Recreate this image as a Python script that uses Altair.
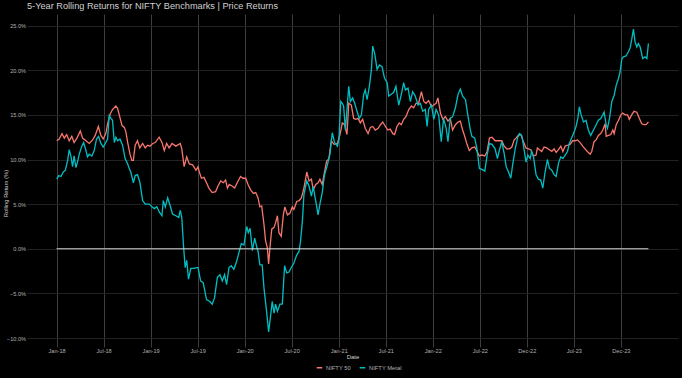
import altair as alt
import pandas as pd

# ---------------- data ----------------
# day offsets from 2018-01-01 and 5-year rolling return (%)
nifty50_days = [1,10,21,30,39,49,59,68,79,92,101,114,127,140,150,162,172,181,191,198,
    208,217,230,237,246,254,263,269,276,285,292,298,305,314,323,334,344,353,362,373,
    383,398,409,418,427,437,448,463,480,486,495,505,515,528,541,549,
    553,562,572,582,591,604,617,626,637,647,656,663,670,682,691,701,714,723,734,743,
    753,764,773,782,789,796,805,811,818,823,828,835,844,850,857,863,872,880,886,896,
    906,915,921,932,941,950,960,971,980,989,996,1006,1015,1022,1031,1038,1048,1057,1066,1077,
    1090,1100,1109,
    1118,1127,1134,1144,1153,1162,1170,1179,1188,1198,1209,1218,1227,1237,1248,1257,1266,1276,1286,1295,
    1305,1312,1321,1330,1338,1347,1356,1367,1377,1386,1395,1405,1416,1425,1434,1444,1455,1464,1473,1480,
    1490,1499,1509,1519,1528,1537,1548,1558,1567,1576,1584,1593,1602,1612,1623,1632,1641,1651,1662,1671,
    1680,1690,
    1702,1715,1728,1737,1747,1758,1767,1776,1783,1792,1802,1812,1822,1831,1840,1851,1861,1866,1874,1883,
    1892,1902,1913,1922,1931,1939,1948,1957,1965,1974,1983,1993,2003,2012,2022,2032,2042,2051,2060,2071,
    2077,2086,2094,2103,2112,2120,2129,2133,2142,2151,2159,2164,2172,2181,2190,2197,2207,2216,2223,2232,
    2241,2252,2262,2271,2280,2288,2297]
nifty50_vals = [12.1,12.3,12.9,12.4,12.8,12.1,12.6,11.9,12.4,13.2,12.4,12.1,11.8,12.2,12.7,13.7,12.7,12.3,12.9,14.0,
    15.1,15.6,16.0,15.7,14.7,13.8,13.6,13.1,11.9,10.6,9.9,9.9,11.6,12.1,11.3,11.8,11.3,11.6,11.5,11.8,
    11.9,12.5,11.9,11.0,11.8,11.3,11.8,11.5,11.8,11.2,9.2,10.3,9.5,9.4,8.8,9.2,
    8.7,7.9,8.0,7.4,6.8,6.3,6.4,7.0,7.6,7.4,7.7,6.8,7.2,7.0,6.8,7.4,8.1,7.9,7.9,7.2,
    6.6,6.2,6.3,5.7,4.7,4.8,2.7,0.9,0.1,-1.7,0.1,2.2,2.4,2.9,3.7,1.8,1.4,3.8,4.7,3.8,
    4.0,4.7,4.4,5.3,5.4,5.7,6.8,8.6,7.6,7.8,6.6,7.2,7.4,7.8,7.2,8.3,9.8,10.1,12.1,11.7,
    11.8,12.8,14.1,
    13.9,12.8,16.3,16.1,14.6,14.5,14.6,14.1,14.5,13.5,12.9,13.6,13.7,13.3,13.5,13.9,14.2,13.7,13.3,13.4,
    12.9,12.8,13.7,14.1,13.9,14.5,14.8,15.6,16.0,15.8,16.3,16.3,17.6,16.5,16.3,16.6,15.9,16.1,16.3,16.9,
    15.2,14.5,14.8,14.3,14.6,13.3,13.9,14.2,14.3,13.3,12.6,11.7,11.0,11.3,11.4,10.9,10.4,10.5,10.4,10.9,
    12.4,12.5,
    12.1,12.1,12.1,11.5,11.2,11.2,11.4,12.2,12.4,12.7,12.8,12.0,11.3,11.2,11.1,10.4,10.5,11.3,11.1,10.9,
    11.4,11.3,11.1,10.9,11.2,10.8,11.1,11.5,10.9,11.5,11.6,11.7,12.1,12.1,12.2,11.9,11.5,11.2,10.9,10.6,
    10.9,12.0,12.2,12.7,12.9,13.3,14.0,12.6,12.7,12.8,13.3,12.9,13.9,14.4,15.0,15.2,15.0,15.0,14.5,15.0,
    15.4,15.3,14.6,14.0,13.9,13.9,14.2]

metal_days = [1,8,17,26,34,43,49,56,62,68,75,81,88,98,105,114,120,127,137,146,
    155,163,172,181,189,198,204,211,217,224,230,237,246,256,266,276,282,288,298,305,
    314,323,334,344,360,370,379,389,399,409,414,422,431,440,450,463,474,480,486,492,
    499,505,512,521,534,543,
    549,559,569,582,595,604,613,624,634,643,652,660,669,678,688,699,708,717,727,738,
    744,751,760,769,776,782,789,798,805,815,823,831,837,844,850,857,867,876,885,893,
    902,911,921,932,941,947,954,960,971,980,989,996,1006,1015,1022,1031,1040,1051,1061,1070,
    1079,1090,1096,1103,1109,
    1114,1121,1134,1140,1149,1157,1166,1175,1183,1192,1198,1205,1214,1222,1227,1235,1244,1253,1263,1273,
    1283,1289,1299,1308,1317,1328,1338,1347,1354,1364,1373,1382,1392,1403,1412,1421,1431,1438,1444,1455,
    1464,1473,1483,1493,1502,1512,1519,1528,1537,1548,1558,1567,1576,1587,1597,1606,1612,1623,1632,1641,
    1651,1662,1671,1680,1690,
    1702,1711,1719,1728,1737,1745,1754,1763,1770,1780,1789,1796,1805,1812,1822,1829,1838,1844,1851,1861,
    1870,1879,1887,1896,1905,1913,1922,1931,1939,1948,1957,1965,1974,1983,1990,1999,2009,2016,2023,2029,
    2036,2045,2055,2064,2073,2084,2094,2103,2112,2120,2125,2133,2138,2146,2155,2164,2172,2181,2187,2194,
    2200,2210,2220,2226,2232,2239,2245,2252,2258,2265,2275,2284,2291,2297]
metal_vals = [7.8,8.2,8.1,8.6,8.8,9.9,11.1,10.3,9.2,10.4,9.1,9.7,10.6,11.5,11.9,11.0,10.3,10.6,10.4,11.0,
    12.3,12.6,11.8,11.4,11.8,12.3,14.9,14.6,14.4,11.9,12.5,12.1,12.3,11.6,10.1,9.5,9.0,8.6,7.4,8.2,
    8.3,7.5,5.4,5.0,5.0,4.7,4.5,4.7,4.1,3.7,5.4,4.7,5.7,4.9,3.9,3.7,3.5,4.3,3.5,0.6,
    -2.1,-1.3,-3.4,-2.2,-2.2,-2.1,
    -2.1,-3.6,-3.8,-5.7,-5.9,-6.2,-5.5,-3.2,-2.9,-3.6,-2.9,-4.0,-2.1,-1.9,-2.3,-1.4,-0.4,0.6,0.4,2.5,
    1.8,2.3,-0.2,1.2,0.3,-0.3,-1.8,-1.8,-4.4,-7.0,-9.3,-7.4,-5.9,-7.2,-6.2,-7.0,-6.2,-6.2,-1.9,-2.7,
    -2.6,-2.1,-1.6,-0.7,-0.3,0.9,3.1,6.1,7.6,7.0,5.9,7.0,5.3,3.8,5.0,6.3,8.3,9.4,10.6,13.0,
    11.9,11.5,12.4,16.5,16.3,
    16.0,13.3,18.2,16.5,16.9,16.3,15.4,14.6,15.0,17.3,17.8,16.7,18.2,20.1,22.7,21.8,20.1,20.6,20.4,19.1,
    18.6,17.1,17.3,17.5,18.2,16.1,17.3,18.6,17.8,18.0,16.5,17.6,17.1,16.1,16.3,15.4,15.6,13.7,15.6,16.1,
    14.5,15.6,15.0,12.0,14.6,13.5,12.0,14.6,14.8,15.8,17.3,17.9,17.1,16.7,14.8,13.3,12.6,12.4,11.1,9.0,
    8.9,8.7,10.5,11.8,11.7,
    11.2,10.1,11.1,12.0,10.7,9.2,8.6,7.9,9.4,11.2,12.4,12.9,12.7,11.6,9.7,10.5,10.1,10.9,10.3,8.3,
    7.8,7.7,6.8,8.6,10.0,9.0,8.8,8.3,8.1,9.6,10.3,10.1,10.5,10.9,11.8,12.4,13.1,13.7,14.6,15.9,
    15.0,14.2,14.4,13.3,12.7,13.3,13.9,14.4,14.6,15.0,15.3,13.9,13.5,14.6,16.5,17.2,18.3,19.1,19.8,21.3,
    21.5,21.6,22.1,22.5,23.4,24.6,23.2,22.6,23.0,22.6,21.3,21.5,21.3,23.0]

series_names = ["NIFTY 50", "NIFTY Metal"]
series_colors = ["#F8766D", "#00BFC4"]
x_tick_labels = ["Jan-18", "Jul-18", "Jan-19", "Jul-19", "Jan-20", "Jul-20", "Jan-21",
                 "Jul-21", "Jan-22", "Jul-22", "Dec-22", "Jul-23", "Dec-23"]
y_ticks = [-10, -7.5, -5, -2.5, 0, 2.5, 5, 7.5, 10, 12.5, 15, 17.5, 20, 22.5, 25]

# ---------------- build table ----------------
base = pd.Timestamp("2018-01-01")
def to_dates(days):
    return [(base + pd.Timedelta(days=d)).strftime("%Y-%m-%d") for d in days]

df = pd.concat([
    pd.DataFrame({"date": to_dates(nifty50_days), "value": nifty50_vals, "series": series_names[0]}),
    pd.DataFrame({"date": to_dates(metal_days), "value": metal_vals, "series": series_names[1]}),
], ignore_index=True)

DAY_MS = 86400000
T0 = int(base.timestamp() * 1000)
STEP = 182.5 * DAY_MS
tick_values = [T0 + k * STEP for k in range(len(x_tick_labels))]
span = max(max(nifty50_days), max(metal_days))
x_domain = [T0 - 0.05 * span * DAY_MS, T0 + 1.05 * span * DAY_MS]
y_domain = [-11.0, 26.3]

label_arr = "[" + ",".join("'%s'" % s for s in x_tick_labels) + "]"
x_label_expr = f"{label_arr}[round((datum.value - {T0}) / {STEP})]"

FONT = "Liberation Sans"

x_enc = alt.X("date:T", title="Date",
              scale=alt.Scale(type="utc", domain=x_domain, nice=False),
              axis=alt.Axis(values=tick_values, labelExpr=x_label_expr,
                            grid=True, gridColor="#3d3d3d", gridWidth=1,
                            ticks=False, domain=False, labelPadding=1,
                            labelFontSize=5.6, labelColor="#b0b0b0",
                            titleFontSize=6, titleColor="#d0d0d0", titleFontWeight="normal",
                            titlePadding=0))
y_enc = alt.Y("value:Q", title="Rolling Return (%)",
              scale=alt.Scale(domain=y_domain, nice=False, zero=False),
              axis=alt.Axis(values=y_ticks, labelExpr="format(datum.value, '.1f') + '%'",
                            grid=True, gridColor="#222222", gridWidth=1,
                            ticks=False, domain=False, labelPadding=1.5,
                            labelFontSize=5.6, labelColor="#b0b0b0",
                            titleFontSize=5.8, titleColor="#d0d0d0", titleFontWeight="normal",
                            titleX=-19, titleY=179))

lines = alt.Chart(df).mark_line(strokeWidth=1.3, clip=True).encode(
    x=x_enc,
    y=y_enc,
    color=alt.Color("series:N",
                    scale=alt.Scale(domain=series_names, range=series_colors),
                    legend=alt.Legend(title=None, orient="none", legendX=289, legendY=350,
                                      direction="horizontal",
                                      symbolType="stroke", symbolStrokeWidth=1.5, symbolSize=30,
                                      labelFontSize=5.8, labelColor="#b0b0b0", labelFont=FONT,
                                      labelOffset=3, columnPadding=5, symbolOffset=0, padding=0)),
    detail="series:N",
)

zero_df = pd.DataFrame({"start": [to_dates([0])[0]], "end": [to_dates([span])[0]]})
zero_line = alt.Chart(zero_df).mark_rule(color="#d9d9d9", strokeWidth=1).encode(
    x="start:T", x2="end:T", y=alt.datum(0)
)

chart = alt.layer(lines, zero_line).properties(
    width=651, height=333,
    title=alt.Title("5-Year Rolling Returns for NIFTY Benchmarks | Price Returns",
                    anchor="start", frame="group", fontSize=9.2, fontWeight="normal",
                    color="#d0d0d0", font=FONT, offset=3),
    autosize=alt.AutoSizeParams(type="none"),
    padding={"left": 27, "top": 14, "right": 4, "bottom": 31},
    background="#000000",
).configure_view(stroke=None).configure_axis(
    labelFont=FONT, titleFont=FONT
)

chart.save("out.html", embed_options={"renderer": "svg", "actions": False})
